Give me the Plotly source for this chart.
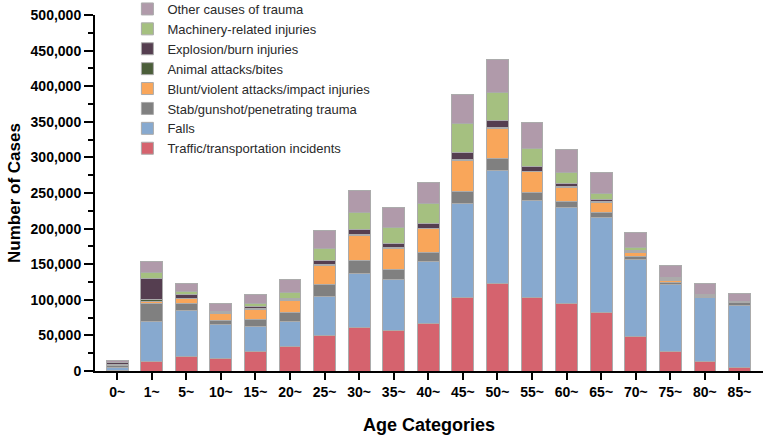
import plotly.graph_objects as go

categories = ["0~", "1~", "5~", "10~", "15~", "20~", "25~", "30~", "35~", "40~",
              "45~", "50~", "55~", "60~", "65~", "70~", "75~", "80~", "85~"]

traffic = [1000, 14000, 19700, 17400, 26700, 34700, 50500, 61800, 56200, 67400,
           103100, 122700, 103100, 95500, 82400, 48700, 26700, 13600, 5600]
falls = [4600, 55800, 65500, 48600, 36500, 35100, 54400, 74900, 72100, 86600,
         132800, 159100, 136600, 134800, 133000, 107700, 95000, 90000, 86600]
stab = [2400, 24800, 10300, 5200, 9000, 11700, 16400, 18700, 14100, 13100,
        16400, 16400, 11600, 8400, 7400, 4200, 2800, 1300, 4700]
blunt = [500, 3700, 6000, 9000, 14500, 18000, 27000, 35500, 30000, 32500,
         44000, 43000, 28500, 19500, 14100, 6100, 3000, 1500, 300]
animal = [200, 1500, 1000, 500, 700, 800, 1000, 1000, 800, 700,
          900, 1400, 1000, 1000, 1000, 800, 500, 200, 100]
explosion = [3000, 30800, 5600, 800, 2500, 2200, 5700, 6600, 6100, 6600,
             9400, 9400, 6600, 4800, 2700, 2000, 2000, 500, 300]
machinery = [500, 8400, 3800, 1900, 4700, 8400, 17700, 24700, 22900, 28100,
             40700, 39700, 25700, 15000, 9300, 4600, 1000, 300, 300]
other = [2800, 15400, 10800, 11200, 13500, 18300, 24400, 30500, 28100, 29500,
         41000, 45900, 36100, 32300, 29500, 21100, 17300, 16000, 10600]

series_names = ["Traffic/transportation incidents", "Falls", "Stab/gunshot/penetrating trauma",
                "Blunt/violent attacks/impact injuries", "Animal attacks/bites",
                "Explosion/burn injuries", "Machinery-related injuries", "Other causes of trauma"]
series_values = [traffic, falls, stab, blunt, animal, explosion, machinery, other]
series_colors = ["#D5636E", "#87A9CF", "#808080", "#F9A65A", "#4B5E3A",
                 "#553E50", "#A5C080", "#B09AAA"]

fig = go.Figure()
for name, vals, col in zip(series_names, series_values, series_colors):
    fig.add_trace(go.Bar(
        x=categories, y=vals, name=name,
        marker=dict(color=col, line=dict(color="#ABABAB", width=1)),
    ))

font_family = "Arial, Liberation Sans, sans-serif"
fig.update_layout(
    barmode="stack",
    bargap=0.37,
    width=767, height=438,
    margin=dict(l=95, r=4, t=15, b=67, autoexpand=False),
    plot_bgcolor="white", paper_bgcolor="white",
    font=dict(family=font_family, color="black"),
    legend=dict(
        traceorder="reversed",
        x=0.0485, y=1.059, xanchor="left", yanchor="top",
        font=dict(size=13, color="#2a2a2a"),
        bgcolor="rgba(255,255,255,0)",
        tracegroupgap=0,
    ),
    xaxis=dict(
        showline=True, linecolor="black", linewidth=2,
        ticks="outside", ticklen=7, tickwidth=2, tickcolor="black",
        tickfont=dict(size=14, weight="bold"),
        title=dict(text="Age Categories", font=dict(size=18, weight="bold"), standoff=20),
        range=[-0.64, 18.68],
    ),
    yaxis=dict(
        range=[0, 500000],
        showline=True, linecolor="black", linewidth=2,
        showgrid=False, zeroline=False,
        ticks="outside", ticklen=9, tickwidth=2, tickcolor="black",
        tickformat=",", dtick=50000,
        ticklabeloverflow="allow",
        tickfont=dict(size=14, weight="bold"),
        minor=dict(ticks="outside", ticklen=5, tickwidth=1.5, tickcolor="black", dtick=25000),
        title=dict(text="Number of Cases", font=dict(size=17, weight="bold"), standoff=6),
    ),
)

# Remove the browser's default 8px body margin so the figure sits at the page origin.
fig.write_html("out.html", config={"displayModeBar": False},
               post_script="document.body.style.margin='0px';")
